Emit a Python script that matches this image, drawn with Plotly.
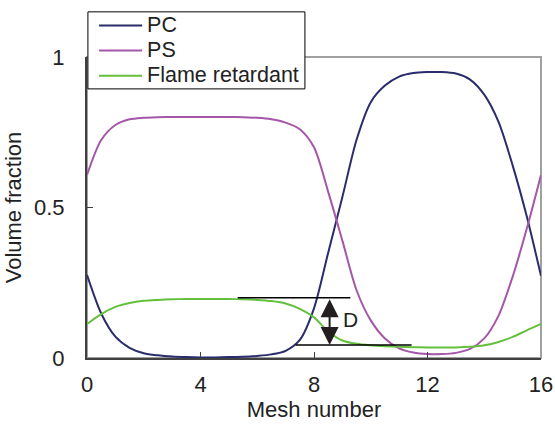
import plotly.graph_objects as go

# ---- data ----
mesh = [0, 0.5, 1, 1.5, 2, 2.5, 3, 3.5, 4, 4.5, 5, 5.5, 6, 6.5, 7, 7.5, 8,
        8.5, 9, 9.5, 10, 10.5, 11, 11.5, 12, 12.5, 13, 13.5, 14, 14.5, 15, 15.5, 16]
pc = [0.276, 0.148, 0.071, 0.034, 0.016, 0.009, 0.005, 0.003, 0.002, 0.002, 0.003,
      0.004, 0.007, 0.012, 0.024, 0.060, 0.165, 0.350, 0.535, 0.725, 0.850, 0.905,
      0.935, 0.947, 0.950, 0.950, 0.945, 0.925, 0.875, 0.785, 0.640, 0.470, 0.273]
ps = [0.608, 0.724, 0.774, 0.793, 0.798, 0.800, 0.801, 0.801, 0.801, 0.801, 0.801,
      0.800, 0.798, 0.793, 0.782, 0.760, 0.700, 0.552, 0.390, 0.225, 0.125, 0.065,
      0.032, 0.018, 0.013, 0.013, 0.017, 0.030, 0.065, 0.140, 0.270, 0.430, 0.608]
fr = [0.113, 0.146, 0.170, 0.183, 0.190, 0.193, 0.195, 0.196, 0.196, 0.196, 0.196,
      0.195, 0.193, 0.189, 0.181, 0.163, 0.135, 0.088, 0.058, 0.047, 0.042, 0.039,
      0.037, 0.036, 0.035, 0.035, 0.035, 0.037, 0.042, 0.053, 0.070, 0.092, 0.113]
series_names = ["PC", "PS", "Flame retardant"]
x_ticks = [0, 4, 8, 12, 16]
x_tick_labels = ["0", "4", "8", "12", "16"]
y_ticks = [0, 0.5, 1]
y_tick_labels = ["0", "0.5", "1"]
d_upper = 0.200
d_lower = 0.043

colors = ["#2b2c6c", "#a457a9", "#64c03c"]
FONT = "Liberation Sans, Arial, sans-serif"

fig = go.Figure()
for name, ys, c in zip(series_names, [pc, ps, fr], colors):
    fig.add_trace(go.Scatter(x=mesh, y=ys, mode="lines",
                             name='<span style="font-size:21.5px">%s</span>' % name,
                             line=dict(color=c, width=2, shape="spline", smoothing=0.8)))

# gray frame (top/right)
fig.add_shape(type="rect", xref="paper", yref="paper", x0=0, x1=1, y0=0, y1=1,
              line=dict(color="#a0a0a0", width=2), layer="below")
# legend frame (white box with black border, under the legend entries)
fig.add_shape(type="rect", xref="paper", yref="paper", x0=0.002, x1=0.480,
              y0=0.894, y1=1.150, line=dict(color="black", width=1),
              fillcolor="white", layer="above")
# D markers
fig.add_shape(type="line", xref="x", yref="y", x0=5.31, x1=9.28, y0=d_upper, y1=d_upper,
              line=dict(color="black", width=1.6))
fig.add_shape(type="line", xref="x", yref="y", x0=7.35, x1=11.44, y0=d_lower, y1=d_lower,
              line=dict(color="black", width=1.6))
fig.add_annotation(x=8.55, y=d_lower, ax=8.55, ay=d_upper, xref="x", yref="y",
                   axref="x", ayref="y", showarrow=True, arrowhead=2, startarrowhead=2,
                   arrowside="end+start", arrowsize=1.8, startarrowsize=1.8,
                   arrowwidth=2, arrowcolor="#231f20", text="")
fig.add_annotation(x=9.3, y=0.127, xref="x", yref="y", text="D", showarrow=False,
                   font=dict(family=FONT, size=21, color="#231f20"))

fig.update_layout(
    width=555, height=426,
    margin=dict(l=87, r=14, t=57, b=68, autoexpand=False),
    paper_bgcolor="white", plot_bgcolor="white",
    font=dict(family=FONT, size=22, color="#222"),
    showlegend=True,
    legend=dict(x=0.0156, y=1.163, xanchor="left", yanchor="top",
                bgcolor="rgba(0,0,0,0)", borderwidth=0,
                font=dict(family=FONT, size=17, color="#222"),
                itemwidth=43, tracegroupgap=0),
)
fig.update_xaxes(range=[0, 16], tickvals=x_ticks, ticktext=x_tick_labels,
                 showgrid=False, zeroline=False, showline=True, linecolor="#404040",
                 linewidth=2, ticks="inside", ticklen=6, tickcolor="#404040",
                 tickfont=dict(size=22), ticklabelstandoff=6, automargin=False,
                 title=dict(text="Mesh number", font=dict(size=22), standoff=0))
fig.update_yaxes(range=[0, 1], tickvals=y_ticks, ticktext=y_tick_labels,
                 showgrid=False, zeroline=False, showline=True, linecolor="#404040",
                 linewidth=2, ticks="inside", ticklen=6, tickcolor="#404040",
                 tickfont=dict(size=22), ticklabelstandoff=16, automargin=False,
                 title=dict(text="Volume fraction", font=dict(size=22), standoff=6))

fig.write_html("out.html", config={"displayModeBar": False},
               post_script="document.body.style.margin='0';document.body.style.overflow='hidden';")
